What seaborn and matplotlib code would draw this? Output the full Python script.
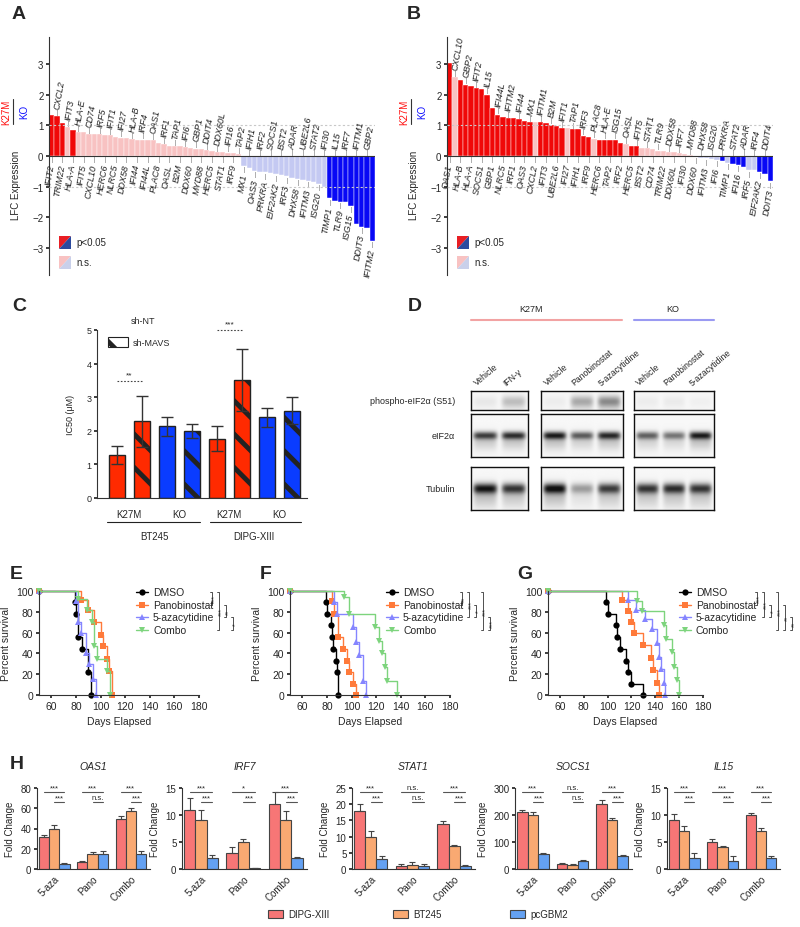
import numpy as np
import pandas as pd
import matplotlib
matplotlib.use('Agg')
import matplotlib.pyplot as plt
import seaborn as sns
from matplotlib.patches import Polygon, Rectangle
from matplotlib.lines import Line2D

# ---------------- data ----------------
# panel A: LFC K27M/KO, BT245
A_genes = ["IFIT2", "CXCL2", "TRIM22", "IFIT3", "HLA-A", "HLA-E", "IFIT5", "CD74", "CXCL10", "IRF5",
           "HERC6", "IFIT1", "NLRC5", "IFI27", "DDX58", "HLA-B", "IFI44", "IRF4", "IFI44L", "OAS1",
           "PLAC8", "IRF1", "OASL", "TAP1", "B2M", "IFI6", "DDX60", "GBP1", "MYD88", "DDIT4",
           "HERC5", "DDX60L", "STAT1", "IFI16", "IRF9", "TAP2", "MX1", "IFIH1", "OAS3", "IRF2",
           "PRKRA", "SOCS1", "EIF2AK2", "BST2", "IRF3", "ADAR", "DHX58", "UBE2L6", "IFITM3", "STAT2",
           "ISG20", "IFI30", "TIMP1", "IL15", "TLR9", "IRF7", "ISG15", "IFITM1", "DDIT3", "GBP2", "IFITM2"]
A_lfc = [1.36, 1.30, 1.09, 0.95, 0.84, 0.78, 0.78, 0.73, 0.72, 0.71,
         0.69, 0.68, 0.63, 0.60, 0.58, 0.55, 0.54, 0.54, 0.53, 0.52,
         0.42, 0.40, 0.33, 0.33, 0.33, 0.30, 0.25, 0.24, 0.22, 0.20,
         0.16, 0.14, 0.13, 0.11, 0.09, 0.05, -0.33, -0.38, -0.49, -0.52,
         -0.54, -0.57, -0.60, -0.63, -0.67, -0.71, -0.76, -0.78, -0.82, -0.85,
         -0.92, -1.03, -1.39, -1.47, -1.50, -1.52, -1.63, -2.23, -2.32, -2.37, -2.77]
A_sig = ["IFIT2", "CXCL2", "TRIM22", "HLA-A", "TIMP1", "IL15", "TLR9", "IRF7", "ISG15",
         "IFITM1", "DDIT3", "GBP2", "IFITM2"]

# panel B: LFC K27M/KO, DIPG-XIII
B_genes = ["OAS1", "CXCL10", "HLA-B", "GBP2", "HLA-A", "IFIT2", "SOCS1", "IL15", "GBP1", "IFI44L",
           "NLRC5", "IFITM2", "IRF1", "IFI44", "OAS3", "MX1", "CXCL2", "IFITM1", "IFIT3", "B2M",
           "UBE2L6", "IFIT1", "IFI27", "TAP1", "IFIH1", "IRF3", "IRF9", "PLAC8", "HERC6", "HLA-E",
           "TAP2", "ISG15", "IRF2", "OASL", "HERC5", "IFIT5", "BST2", "STAT1", "CD74", "TLR9",
           "TRIM22", "DDX58", "DDX60L", "IRF7", "IFI30", "MYD88", "DDX60", "DHX58", "IFITM3", "ISG20",
           "IFI6", "PRKRA", "TIMP1", "STAT2", "IFI16", "ADAR", "IRF5", "IRF4", "EIF2AK2", "DDIT4", "DDIT3"]
B_lfc = [3.04, 2.58, 2.50, 2.34, 2.30, 2.23, 2.20, 2.01, 1.58, 1.36,
         1.28, 1.23, 1.23, 1.20, 1.16, 1.11, 1.11, 1.10, 1.07, 1.03,
         0.98, 0.92, 0.92, 0.87, 0.87, 0.67, 0.62, 0.57, 0.54, 0.54,
         0.54, 0.54, 0.41, 0.38, 0.33, 0.33, 0.27, 0.25, 0.22, 0.18,
         0.15, 0.13, 0.12, 0.09, 0.07, 0.03, -0.03, -0.05, -0.08, -0.09,
         -0.13, -0.18, -0.22, -0.27, -0.29, -0.35, -0.47, -0.47, -0.51, -0.60, -0.83]
B_ns = ["CXCL10", "CXCL2", "IFI27", "PLAC8", "OASL", "BST2", "STAT1", "CD74", "TLR9", "TRIM22",
        "DDX58", "DDX60L", "IRF7", "IFI30", "MYD88", "DDX60", "DHX58", "IFITM3", "ISG20", "IFI6",
        "TIMP1", "IRF5", "IRF4"]

# panel C: IC50
C_line = ["BT245"] * 4 + ["DIPG-XIII"] * 4
C_geno = ["K27M", "K27M", "KO", "KO"] * 2
C_sh = ["sh-NT", "sh-MAVS"] * 4
C_ic50 = [1.28, 2.28, 2.13, 2.00, 1.77, 3.50, 2.40, 2.60]
C_sd = [0.28, 0.76, 0.28, 0.21, 0.36, 0.92, 0.28, 0.41]

# panel D: western blot band intensities
D_lanes = [["Vehicle", "IFN-γ"], ["Vehicle", "Panobinostat", "5-azacytidine"],
           ["Vehicle", "Panobinostat", "5-azacytidine"]]
D_rows = ["phospho-eIF2α (S51)", "eIF2α", "Tubulin"]
D_phospho = [[0.06, 0.22], [0.04, 0.30, 0.42], [0.04, 0.05, 0.03]]
D_eif2a = [[0.72, 0.78], [0.85, 0.60, 0.80], [0.58, 0.50, 0.85]]
D_tub = [[0.88, 0.75], [0.92, 0.35, 0.72], [0.75, 0.78, 0.75]]

# panels E-G: Kaplan-Meier (day, percent survival)
KM_names = ["DMSO", "Panobinostat", "5-azacytidine", "Combo"]
E_km = {"DMSO": ([50, 79, 80, 82, 85, 90, 92], [100, 89, 78, 56, 44, 22, 0]),
        "Panobinostat": ([50, 84, 90, 95, 100, 102, 105, 107, 109], [100, 91, 82, 70, 58, 47, 35, 23, 0]),
        "5-azacytidine": ([50, 80, 82, 84, 88, 91, 94, 96], [100, 90, 70, 60, 40, 30, 15, 0]),
        "Combo": ([50, 82, 89, 93, 95, 97, 105, 108], [100, 92, 82, 70, 47, 35, 23, 0])}
F_km = {"DMSO": ([50, 79, 80, 83, 84, 85, 87, 88, 89], [100, 89, 78, 67, 56, 44, 33, 22, 0]),
        "Panobinostat": ([50, 84, 86, 89, 93, 96, 98, 101, 104], [100, 90, 78, 56, 44, 33, 22, 11, 0]),
        "5-azacytidine": ([50, 86, 88, 101, 104, 106, 109, 112], [100, 89, 78, 65, 51, 38, 13, 0]),
        "Combo": ([50, 94, 98, 119, 122, 125, 127, 129, 137], [100, 94, 78, 65, 52, 40, 27, 13, 0])}
G_km = {"DMSO": ([50, 99, 100, 107, 108, 110, 115, 117, 120, 130], [100, 89, 78, 67, 56, 44, 33, 22, 11, 0]),
        "Panobinostat": ([50, 112, 117, 120, 122, 130, 136, 138, 141, 143],
                         [100, 91, 81, 70, 60, 48, 36, 24, 12, 0]),
        "5-azacytidine": ([50, 117, 124, 131, 137, 141, 143, 145, 147, 148],
                          [100, 91, 82, 73, 63, 50, 37, 25, 12, 0]),
        "Combo": ([50, 125, 129, 147, 149, 154, 156, 158, 160], [100, 90, 81, 67, 54, 41, 27, 14, 0])}
E_br = [(0, 1, 0, "***"), (0, 3, 1, "***"), (1, 2, 2, "**"), (2, 3, 3, "*")]
F_br = [(0, 1, 0, "**"), (0, 2, 1, "***"), (1, 2, 2, "*"), (0, 3, 3, "***"), (2, 3, 4, "***")]
G_br = [(0, 1, 0, "***"), (0, 2, 1, "***"), (1, 2, 2, "*"), (0, 3, 3, "***"), (1, 3, 4, "**"), (2, 3, 5, "**")]

# panel H: fold change [treatment][cell line]
H_genes = ["OAS1", "IRF7", "STAT1", "SOCS1", "IL15"]
H_treat = ["5-aza", "Pano", "Combo"]
H_lines = ["DIPG-XIII", "BT245", "pcGBM2"]
OAS1_fc = [[32, 40, 5], [7, 15, 15], [49, 57, 15]]
OAS1_sd = [[2, 3.5, 1], [1, 2, 3], [3, 3.5, 2.5]]
IRF7_fc = [[11, 9, 2], [3, 5, 0.1], [12, 9, 2]]
IRF7_sd = [[2.1, 2, 0.6], [1, 0.6, 0.1], [2.2, 1.7, 0.3]]
STAT1_fc = [[18, 10, 3], [1, 1.3, 1], [14, 7, 1]]
STAT1_sd = [[2.2, 1.7, 1], [0.5, 0.8, 0.5], [0.7, 0.5, 0.2]]
SOCS1_fc = [[210, 200, 57], [20, 14, 30], [240, 180, 50]]
SOCS1_sd = [[10, 10, 3], [3, 4, 4], [15, 8, 3]]
IL15_fc = [[9, 7, 2], [5, 4, 1.5], [10, 7, 2]]
IL15_sd = [[1.1, 1, 1], [0.6, 0.3, 0.9], [0.4, 0.6, 0.5]]
H_ymax = [80, 15, 25, 300, 15]
H_step = [20, 5, 5, 100, 5]
H_sig = {"OAS1": [("***", "***"), ("***", "n.s."), ("***", "***")],
         "IRF7": [("***", "***"), ("*", "***"), ("***", "***")],
         "STAT1": [("***", "***"), ("n.s.", "n.s."), ("***", "***")],
         "SOCS1": [("***", "***"), ("n.s.", "n.s."), ("***", "***")],
         "IL15": [("***", "***"), ("***", "***"), ("***", "***")]}

# ---------------- style ----------------
sns.set_theme(style="ticks")
plt.rcParams["font.family"] = ["Liberation Sans", "DejaVu Sans"]
plt.rcParams["font.size"] = 6.5
plt.rcParams["axes.linewidth"] = 0.8
plt.rcParams["axes.edgecolor"] = "#333333"
plt.rcParams["xtick.labelsize"] = 6.5
plt.rcParams["ytick.labelsize"] = 6.5
plt.rcParams["xtick.major.size"] = 2.5
plt.rcParams["ytick.major.size"] = 2.5
plt.rcParams["xtick.major.pad"] = 1.5
plt.rcParams["ytick.major.pad"] = 1.5
plt.rcParams["axes.labelsize"] = 6.5
plt.rcParams["hatch.linewidth"] = 3.5

RED, PINK, BLUE, LBLUE = "#f00808", "#f8c2c2", "#0808f5", "#c4c9f2"
KM_COL = {"DMSO": "black", "Panobinostat": "#ff7a3a", "5-azacytidine": "#8585ff", "Combo": "#7dd47d"}
KM_MK = {"DMSO": "o", "Panobinostat": "s", "5-azacytidine": "^", "Combo": "v"}
H_colors = ["#f77676", "#f9a972", "#64a1f2"]

W, H = 800, 928
fig = plt.figure(figsize=(8, 9.28), dpi=100)


def box(x0, y0, x1, y1):
    return fig.add_axes([x0 / W, 1 - y1 / H, (x1 - x0) / W, (y1 - y0) / H])


def ftxt(x, y, s, **kw):
    fig.text(x / W, 1 - y / H, s, **kw)


def fline(xs, ys, **kw):
    fig.add_artist(Line2D([x / W for x in xs], [1 - y / H for y in ys], **kw))


def swatch(x, y, c1, c2, w=12, h=13):
    for pts, c in (([(x, y), (x + w, y), (x, y + h)], c1), ([(x + w, y), (x + w, y + h), (x, y + h)], c2)):
        fig.add_artist(Polygon([(px / W, 1 - py / H) for px, py in pts], closed=True,
                               transform=fig.transFigure, facecolor=c, edgecolor="none"))


def letter(x, y, s):
    ftxt(x, y, s, fontsize=14, fontweight="bold", ha="left", va="top")


# ---------------- A / B ----------------
def lfc_panel(x0, genes, vals, sig_flags):
    ax = box(x0, 38, x0 + 326, 276)
    cols = []
    for v, s in zip(vals, sig_flags):
        if v >= 0:
            cols.append(RED if s else PINK)
        else:
            cols.append(BLUE if s else LBLUE)
    df = pd.DataFrame({"gene": genes, "lfc": vals})
    sns.barplot(data=df, x="gene", y="lfc", hue="gene", palette=cols, width=1.0, saturation=1,
                edgecolor="white", linewidth=0.3, legend=False, ax=ax)
    ax.set_xlim(-0.5, len(genes) - 0.5)
    ax.set_ylim(-3.9, 3.9)
    ax.set_yticks([-3, -2, -1, 0, 1, 2, 3])
    ax.tick_params(axis="y", labelsize=7)
    ax.set_xticks([])
    ax.set_xlabel("")
    ax.set_ylabel("")
    for sp in ["top", "right", "bottom"]:
        ax.spines[sp].set_visible(False)
    ax.axhline(0, color="#333333", lw=0.8, zorder=4)
    for yv in (-1, 1):
        ax.axhline(yv, color="#c8c8c8", lw=0.8, ls=(0, (2, 2)), zorder=3)
    for i, (g, v) in enumerate(zip(genes, vals)):
        if i % 2 == 0:
            base = min(v, 0)
            ax.plot([i, i], [base - 0.04, base - 0.22], ls=(0, (1.2, 1.2)), color="#444444", lw=0.6)
            ax.text(i, base - 0.25, g, rotation=80, rotation_mode="anchor", ha="right", va="center",
                    fontsize=6.5, style="italic", color="#222222")
        else:
            base = max(v, 0)
            ax.plot([i, i], [base + 0.04, base + 0.22], ls=(0, (1.2, 1.2)), color="#444444", lw=0.6)
            ax.text(i, base + 0.25, g, rotation=80, rotation_mode="anchor", ha="left", va="center",
                    fontsize=6.5, style="italic", color="#222222")
    # y label with fraction
    ftxt(x0 - 33, 185, "LFC Expression", rotation=90, ha="center", va="center", fontsize=7)
    ftxt(x0 - 43, 112, "K27M", rotation=90, ha="center", va="center", color="#ff1010", fontsize=7)
    fline([x0 - 36, x0 - 36], [100, 125], color="#333333", lw=0.8)
    ftxt(x0 - 25, 112, "KO", rotation=90, ha="center", va="center", color="#1010ff", fontsize=7)
    # legend
    swatch(x0 + 10, 237, "#e81e24", "#2b4a9e")
    ftxt(x0 + 27, 243, "p<0.05", va="center", fontsize=7)
    swatch(x0 + 10, 257, PINK, "#c9d0ea")
    ftxt(x0 + 27, 263, "n.s.", va="center", fontsize=7)
    return ax


lfc_panel(49, A_genes, A_lfc, [g in A_sig for g in A_genes])
lfc_panel(447, B_genes, B_lfc, [g not in B_ns for g in B_genes])
letter(12, 6, "A")
letter(407, 6, "B")

# ---------------- C ----------------
axc = box(97, 331, 307, 499)
C_colors = ["#ff2a00" if g == "K27M" else "#0a3cff" for g in C_geno]
dfc = pd.DataFrame({"pos": list(range(8)), "ic50": C_ic50})
sns.barplot(data=dfc, x="pos", y="ic50", hue="pos", palette=C_colors, width=0.64, saturation=1,
            edgecolor="#222222", linewidth=1, legend=False, ax=axc)
bars = sorted(axc.patches, key=lambda p: p.get_x())
for p, sh in zip(bars, C_sh):
    if sh == "sh-MAVS":
        p.set_hatch("\\")
axc.errorbar(range(8), C_ic50, yerr=C_sd, fmt="none", ecolor="#333333", elinewidth=1, capsize=4, capthick=1)
axc.set_xlim(-0.8, 7.6)
axc.set_ylim(0, 5)
axc.set_yticks(range(6))
axc.set_xticks([])
axc.set_xlabel("")
axc.set_ylabel("IC50 (μM)", labelpad=8)
sns.despine(ax=axc)
for k, g in enumerate(C_geno[::2]):
    ftxt(129 + 50 * k, 515, g, ha="center", va="center", fontsize=7)
fline([107, 200], [523, 523], color="#222222", lw=0.8)
fline([210, 301], [523, 523], color="#222222", lw=0.8)
ftxt(154, 537, C_line[0], ha="center", va="center", fontsize=7)
ftxt(254, 537, C_line[4], ha="center", va="center", fontsize=7)
axc.plot([0, 1], [3.48, 3.48], ls=(0, (1.5, 1.5)), color="#444444", lw=0.8, clip_on=False)
axc.text(0.5, 3.55, "**", ha="center", va="bottom", fontsize=6)
axc.plot([4, 5], [5.0, 5.0], ls=(0, (1.5, 1.5)), color="#444444", lw=0.8, clip_on=False)
axc.text(4.5, 5.07, "***", ha="center", va="bottom", fontsize=6)
ftxt(131, 322, "sh-NT", va="center")
fig.add_artist(Rectangle((108 / W, 1 - 348 / H), 20 / W, 10 / H, transform=fig.transFigure,
                         facecolor="white", edgecolor="#222222", hatch="\\", lw=0.8))
ftxt(133, 343, "sh-MAVS", va="center")
letter(12, 298, "C")

# ---------------- D ----------------
letter(408, 298, "D")
ftxt(531, 310, "K27M", ha="center", va="center")
fline([471, 622], [321, 321], color="#f2a3a3", lw=1.5)
ftxt(673, 310, "KO", ha="center", va="center")
fline([634, 714], [321, 321], color="#9a9af2", lw=1.5)

D_groups = [(471, 528), (541, 623), (634, 714)]
D_boxes = [(392, 411), (415, 458), (468, 511)]
D_band = [(0.55, 0.30, D_phospho), (0.50, 0.09, D_eif2a), (0.50, 0.12, D_tub)]
for (yt, yb), (yc, sg, lev), rname in zip(D_boxes, D_band, D_rows):
    ftxt(455, (yt + yb) / 2, rname, ha="right", va="center")
    for gi, (gx0, gx1) in enumerate(D_groups):
        ax = box(gx0, yt, gx1, yb)
        levels = lev[gi]
        n = len(levels)
        yy = np.linspace(0, 1, 80)[:, None]
        xx = np.linspace(0, n, 200)[None, :]
        dark = np.zeros((80, 200))
        for j, lv in enumerate(levels):
            hp = np.exp(-(((xx - j - 0.5) / 0.42) ** 6))
            vp = np.exp(-((yy - yc) / sg) ** 2) + 0.25 * np.exp(-((yy - yc - 1.6 * sg) / (2.2 * sg)) ** 2)
            dark += lv * hp * vp
        img = 0.97 - np.clip(dark, 0, 1) * 0.9
        ax.imshow(img, cmap="gray", vmin=0, vmax=1, aspect="auto", interpolation="bilinear")
        ax.set_xticks([])
        ax.set_yticks([])
        for sp in ax.spines.values():
            sp.set_color("#111111")
            sp.set_linewidth(1.0)
for (gx0, gx1), labs in zip(D_groups, D_lanes):
    n = len(labs)
    for j, lab in enumerate(labs):
        cx = gx0 + (j + 0.5) * (gx1 - gx0) / n
        ftxt(cx - 8, 386, lab, rotation=40, rotation_mode="anchor", ha="left", va="baseline", fontsize=6.2)


# ---------------- E / F / G ----------------
def km_panel(x0, x1, km, lx, bx, brackets):
    ax = box(x0, 592, x1, 696)
    for name in KM_names:
        t, s = km[name]
        df = pd.DataFrame({"t": t, "s": s})
        sns.lineplot(data=df, x="t", y="s", drawstyle="steps-post", color=KM_COL[name], marker=KM_MK[name],
                     markersize=4.5, markeredgewidth=0, lw=1, estimator=None, sort=False, ax=ax, clip_on=False)
    ax.set_xlim(50, 180)
    ax.set_ylim(0, 100)
    ax.set_xticks(range(60, 181, 20))
    ax.set_yticks(range(0, 101, 20))
    ax.set_xlabel("Days Elapsed", fontsize=7.5)
    ax.set_ylabel("Percent survival", fontsize=7.5)
    ax.tick_params(labelsize=7.5)
    sns.despine(ax=ax)
    rows = [593, 606, 618, 631]
    for name, y in zip(KM_names, rows):
        fline([lx - 6, lx + 6], [y, y], color=KM_COL[name], lw=1)
        fig.add_artist(Line2D([lx / W], [1 - y / H], marker=KM_MK[name], color=KM_COL[name], markersize=4.5,
                              markeredgewidth=0, transform=fig.transFigure))
        ftxt(lx + 11, y, name, va="center", fontsize=7.5)
    for i, j, lvl, lab in brackets:
        x = bx + lvl * 7
        yi, yj = rows[i], rows[j]
        fline([x - 2, x, x, x - 2], [yi, yi, yj, yj], color="#333333", lw=0.6)
        ftxt(x + 2.8, (yi + yj) / 2, lab, rotation=90, fontsize=5, ha="center", va="center")


km_panel(39, 199, E_km, 142, 212, E_br)
km_panel(290, 450, F_km, 392, 462, F_br)
km_panel(548, 703, G_km, 685, 757, G_br)
letter(10, 566, "E")
letter(260, 566, "F")
letter(517, 566, "G")

# ---------------- H ----------------
H_fc = {"OAS1": OAS1_fc, "IRF7": IRF7_fc, "STAT1": STAT1_fc, "SOCS1": SOCS1_fc, "IL15": IL15_fc}
H_sd = {"OAS1": OAS1_sd, "IRF7": IRF7_sd, "STAT1": STAT1_sd, "SOCS1": SOCS1_sd, "IL15": IL15_sd}
H_boxes = [(37, 150), (182, 307), (352, 475), (515, 632), (667, 780)]
for gi, (gene, (x0, x1)) in enumerate(zip(H_genes, H_boxes)):
    ax = box(x0, 789, x1, 870)
    recs = []
    for ti, tr in enumerate(H_treat):
        for li, ln in enumerate(H_lines):
            recs.append({"treat": tr, "line": ln, "fc": H_fc[gene][ti][li]})
    df = pd.DataFrame(recs)
    sns.barplot(data=df, x="treat", y="fc", hue="line", palette=H_colors, saturation=1, width=0.8,
                edgecolor="#444444", linewidth=0.8, legend=False, ax=ax)
    bar_conts = list(ax.containers)
    for li, cont in enumerate(bar_conts):
        for ti, bar in enumerate(cont):
            cx = bar.get_x() + bar.get_width() / 2
            ax.errorbar(cx, bar.get_height(), yerr=[[0], [H_sd[gene][ti][li]]], fmt="none",
                        ecolor="#444444", elinewidth=0.8, capsize=2, capthick=0.8)
    ymax = H_ymax[gi]
    ax.set_ylim(0, ymax)
    ax.set_yticks(np.arange(0, ymax + 0.1, H_step[gi]))
    ax.set_xlim(-0.45, 2.5)
    ax.set_xlabel("")
    ax.set_ylabel("Fold Change", fontsize=7)
    ax.tick_params(axis="x", length=0, pad=3, labelsize=7)
    ax.tick_params(axis="y", labelsize=7)
    for lab in ax.get_xticklabels():
        lab.set_rotation(45)
        lab.set_ha("right")
        lab.set_rotation_mode("anchor")
    sns.despine(ax=ax)
    bw = 0.8 / 3
    for ti, (s_long, s_short) in enumerate(H_sig[gene]):
        y1, y2 = 0.95 * ymax, 0.83 * ymax
        ax.plot([ti - bw, ti + bw], [y1, y1], color="#555555", lw=0.8, clip_on=False)
        ax.text(ti, y1 + 0.01 * ymax, s_long, ha="center", va="bottom", fontsize=5.5)
        ax.plot([ti, ti + bw], [y2, y2], color="#555555", lw=0.8, clip_on=False)
        ax.text(ti + bw / 2, y2 + 0.01 * ymax, s_short, ha="center", va="bottom", fontsize=5.5)
    ftxt((x0 + x1) / 2, 767, gene, style="italic", ha="center", va="center", fontsize=7.5)
letter(10, 756, "H")

for x, ln, c in zip([268, 393, 510], H_lines, H_colors):
    fig.add_artist(Rectangle((x / W, 1 - 919 / H), 15 / W, 8 / H, transform=fig.transFigure,
                             facecolor=c, edgecolor="#444444", lw=0.8))
    ftxt(x + 20, 915, ln, va="center", fontsize=7)

fig.savefig("out.png", dpi=100, facecolor="white")
